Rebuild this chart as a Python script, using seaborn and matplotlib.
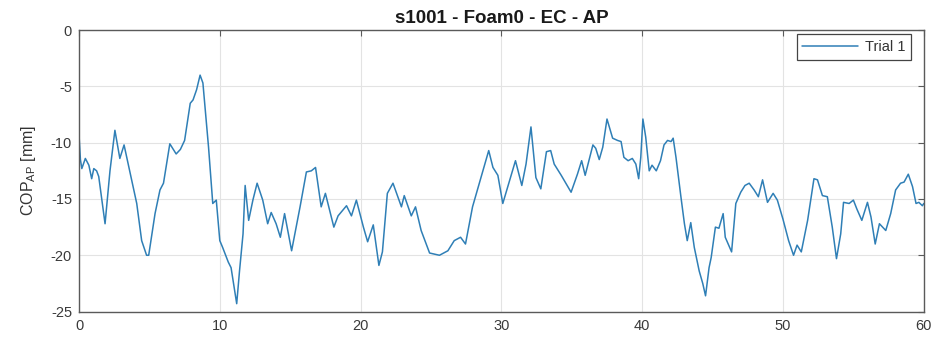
import matplotlib
matplotlib.use("Agg")
import matplotlib.pyplot as plt
import seaborn as sns
import pandas as pd

# Centre-of-pressure trace, anterior-posterior direction (time in s, COP in mm)
time_s = [
    0.0, 0.1, 0.2, 0.45, 0.7, 0.9, 1.05, 1.25, 1.4, 1.85, 2.2, 2.55, 2.9, 3.2,
    3.6, 4.1, 4.45, 4.8, 4.95, 5.4, 5.75, 6.0, 6.45, 6.9, 7.2, 7.5, 7.9, 8.1,
    8.35, 8.6, 8.8, 9.2, 9.5, 9.75, 10.0, 10.2, 10.6, 10.8, 11.2, 11.4, 11.65,
    11.8, 12.05, 12.35, 12.65, 13.05, 13.4, 13.65, 14.0, 14.3, 14.6, 15.1,
    15.7, 16.15, 16.5, 16.8, 17.2, 17.5, 18.1, 18.4, 19.0, 19.35, 19.7, 20.2,
    20.5, 20.9, 21.3, 21.55, 21.9, 22.3, 22.9, 23.1, 23.6, 23.9, 24.3, 24.9,
    25.6, 26.2, 26.65, 27.1, 27.45, 27.95, 28.55, 29.1, 29.4, 29.75, 30.1,
    30.6, 31.0, 31.45, 31.75, 32.1, 32.45, 32.8, 33.2, 33.5, 33.75, 34.25,
    34.95, 35.4, 35.7, 35.95, 36.5, 36.7, 36.95, 37.2, 37.5, 37.9, 38.25,
    38.5, 38.7, 39.0, 39.3, 39.55, 39.75, 39.9, 40.05, 40.25, 40.5, 40.7,
    41.0, 41.3, 41.55, 41.8, 42.05, 42.2, 42.4, 42.75, 43.0, 43.2, 43.45,
    43.7, 44.05, 44.3, 44.5, 44.75, 44.9, 45.2, 45.45, 45.75, 45.9, 46.35,
    46.65, 47.0, 47.3, 47.6, 47.95, 48.25, 48.55, 48.9, 49.3, 49.6, 50.0,
    50.4, 50.75, 51.0, 51.3, 51.75, 52.2, 52.45, 52.8, 53.15, 53.5, 53.8,
    54.1, 54.3, 54.7, 55.0, 55.25, 55.6, 56.0, 56.25, 56.55, 56.85, 57.3,
    57.65, 58.0, 58.35, 58.6, 58.9, 59.2, 59.45, 59.65, 59.9, 60.0,
]
cop_ap_mm = [
    -9.3, -11.5, -12.3, -11.4, -12.0, -13.2, -12.3, -12.5, -13.0, -17.2, -12.5,
    -8.9, -11.4, -10.2, -12.5, -15.4, -18.7, -20.0, -20.0, -16.3, -14.2, -13.6,
    -10.1, -11.0, -10.6, -9.8, -6.5, -6.2, -5.3, -4.0, -4.7, -10.4, -15.4,
    -15.1, -18.7, -19.3, -20.6, -21.1, -24.3, -21.4, -18.1, -13.8, -16.9,
    -15.1, -13.6, -15.1, -17.2, -16.2, -17.2, -18.4, -16.3, -19.6, -15.7,
    -12.6, -12.5, -12.2, -15.7, -14.5, -17.5, -16.5, -15.6, -16.5, -15.1,
    -17.5, -18.8, -17.3, -20.9, -19.7, -14.5, -13.6, -15.7, -14.7, -16.5,
    -15.7, -17.8, -19.8, -20.0, -19.6, -18.7, -18.4, -19.0, -15.7, -13.1,
    -10.7, -12.2, -12.9, -15.4, -13.3, -11.6, -13.8, -11.9, -8.6, -13.1,
    -14.1, -10.8, -10.7, -11.9, -12.9, -14.4, -12.8, -11.6, -12.9, -10.2,
    -10.5, -11.5, -10.4, -7.9, -9.6, -9.8, -9.9, -11.3, -11.6, -11.4, -11.9,
    -13.2, -11.3, -7.9, -9.5, -12.5, -12.0, -12.5, -11.6, -10.2, -9.8, -9.9,
    -9.6, -11.3, -14.8, -17.2, -18.7, -17.1, -19.3, -21.4, -22.5, -23.6,
    -21.1, -20.2, -17.5, -17.6, -16.3, -18.4, -19.7, -15.4, -14.4, -13.8,
    -13.6, -14.2, -14.8, -13.3, -15.3, -14.5, -15.1, -16.8, -18.7, -20.0,
    -19.1, -19.7, -16.9, -13.2, -13.3, -14.7, -14.8, -17.5, -20.3, -18.1,
    -15.3, -15.4, -15.1, -15.9, -16.9, -15.3, -16.6, -19.0, -17.2, -17.8,
    -16.3, -14.2, -13.6, -13.5, -12.8, -13.9, -15.4, -15.3, -15.6, -15.4,
]
x_ticks = [0, 10, 20, 30, 40, 50, 60]
y_ticks = [-25, -20, -15, -10, -5, 0]
trial_label = "Trial 1"
title_text = "s1001 - Foam0 - EC - AP"

df = pd.DataFrame({"time": time_s, "cop": cop_ap_mm})

sns.set_style("white")
plt.rcParams["font.family"] = ["Liberation Sans", "DejaVu Sans"]
plt.rcParams["axes.unicode_minus"] = False

fig = plt.figure(figsize=(9.35, 3.42), dpi=100)
ax = fig.add_axes([0.0845, 0.089, 0.9035, 0.823])

sns.lineplot(data=df, x="time", y="cop", ax=ax, color="#2f7fb6",
             linewidth=1.1, label=trial_label, sort=False)

ax.set_xlim(0, 60)
ax.set_ylim(-25, 0)
ax.set_xticks(x_ticks)
ax.set_yticks(y_ticks)
ax.grid(True, color="#e3e3e3", linewidth=0.8)
ax.set_axisbelow(True)

axis_col = "#5a5a5a"
for s in ax.spines.values():
    s.set_visible(True)
    s.set_color(axis_col)
    s.set_linewidth(1.0)
ax.tick_params(direction="in", length=4, width=0.8, colors=axis_col,
               labelcolor="#3a3a3a", labelsize=10.5, top=True, right=True,
               pad=5)

ax.set_xlabel("")
ax.set_ylabel(r"COP$_{\mathregular{AP}}$ [mm]", fontsize=11.5, color="#333333",
              labelpad=9)
ax.set_title(title_text, fontsize=13.5, fontweight="bold", color="#1a1a1a",
             pad=5)

leg = ax.legend(loc="upper right", bbox_to_anchor=(0.994, 1.011), frameon=True,
                fancybox=False, framealpha=1, edgecolor="#444444",
                fontsize=10.5, handlelength=3.8, borderpad=0.4,
                handletextpad=0.5)
leg.get_frame().set_linewidth(0.9)
for txt in leg.get_texts():
    txt.set_color("#333333")

fig.savefig("out.png", dpi=100)
